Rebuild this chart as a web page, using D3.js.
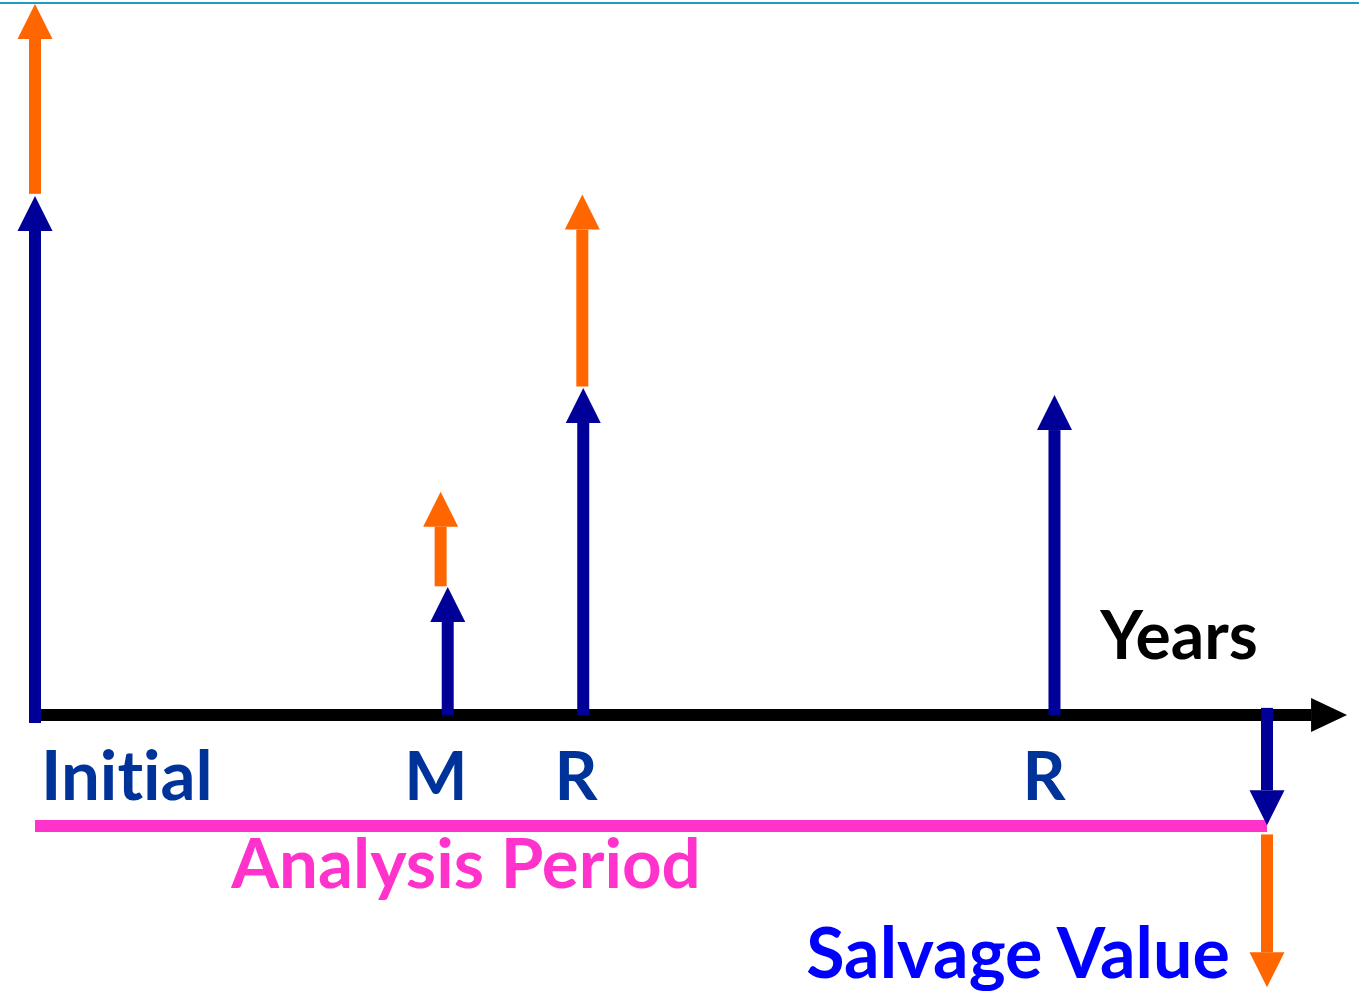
<!DOCTYPE html>
<html>
<head>
<meta charset="utf-8">
<script src="https://cdn.jsdelivr.net/npm/d3@7"></script>
<style>
  body { margin: 0; background: #fff; }
  text { font-family: Lato, "Open Sans", sans-serif; font-weight: bold; font-variant-ligatures: none; }
</style>
</head>
<body>
<div id="chart"></div>
<script>
let svgWidth = 1359;
let svgHeight = 991;

// cash flow events (years into the analysis period)
let eventLabels = ["Initial", "M", "R", "R", "Salvage"];
let eventYears = [0, 13.4, 17.8, 33.1, 40];
// agency cost (navy), positive = cost, negative = salvage
let agencyCost = [73, 18, 46, 45, -15.5];
// user cost (orange), drawn from start to end value
let userYears = [0, 13.17, 17.77, 40];
let userStart = [73.3, 18.1, 46.2, -16.8];
let userEnd = [100, 31.4, 73.2, -38.3];

let analysisYears = 40;
let axisEndYear = 42.6;

let svg = d3.select("#chart")
  .append("svg")
  .attr("width", svgWidth)
  .attr("height", svgHeight);

let x = d3.scaleLinear().domain([0, analysisYears]).range([35, 1267]);
let y = d3.scaleLinear().domain([0, 100]).range([715, 4]);

let navy = "#000099";
let orange = "#ff6600";
let stemW = 12, headW = 35, headL = 35;

// vertical arrow from value v0 to v1 at px position cx
function arrow(g, cx, v0, v1, color) {
  let y0 = y(v0), y1 = y(v1);
  let dir = y1 < y0 ? 1 : -1; // 1 = pointing up
  let hb = y1 + dir * headL;
  g.append("rect")
    .attr("x", cx - stemW / 2)
    .attr("y", Math.min(y0, hb))
    .attr("width", stemW)
    .attr("height", Math.abs(hb - y0))
    .attr("fill", color);
  g.append("path")
    .attr("d", `M${cx - headW / 2},${hb} L${cx + headW / 2},${hb} L${cx},${y1} Z`)
    .attr("fill", color);
}

// thin rule at top
svg.append("line")
  .attr("x1", 0).attr("x2", svgWidth)
  .attr("y1", 3).attr("y2", 3)
  .attr("stroke", "#1f9dbb")
  .attr("stroke-width", 2);

// time axis with arrow head
let axisG = svg.append("g");
axisG.append("rect")
  .attr("x", x(0) + 6)
  .attr("y", y(0) - 6)
  .attr("width", x(axisEndYear) - 36 - x(0) - 6)
  .attr("height", 12)
  .attr("fill", "#000");
axisG.append("path")
  .attr("d", `M${x(axisEndYear) - 36},${y(0) - 17} L${x(axisEndYear)},${y(0)} L${x(axisEndYear) - 36},${y(0) + 17} Z`)
  .attr("fill", "#000");

// analysis period bar
svg.append("rect")
  .attr("x", x(0))
  .attr("y", 820)
  .attr("width", x(analysisYears) - x(0))
  .attr("height", 12)
  .attr("fill", "#ff33cc");

// agency cost arrows
let arrowsG = svg.append("g");
eventYears.forEach((yr, i) => {
  let base = agencyCost[i] < 0 ? 1 : 0;
  arrow(arrowsG, x(yr), base, agencyCost[i], navy);
});
// initial stem runs slightly below axis
arrowsG.append("rect")
  .attr("x", x(0) - stemW / 2).attr("y", y(0))
  .attr("width", stemW).attr("height", 8)
  .attr("fill", navy);

// user cost arrows
userYears.forEach((yr, i) => {
  arrow(arrowsG, x(yr), userStart[i], userEnd[i], orange);
});

// labels
let labelColor = "#003399";
let labelsG = svg.append("g").attr("font-size", 67).attr("fill", labelColor);
labelsG.append("text").attr("x", 41).attr("y", 800).attr("font-size", 69).text("Initial");
labelsG.append("text").attr("x", 436).attr("y", 800).attr("text-anchor", "middle").text("M");
labelsG.append("text").attr("x", 576).attr("y", 800).attr("text-anchor", "middle").text("R");
labelsG.append("text").attr("x", 1044).attr("y", 800).attr("text-anchor", "middle").text("R");

svg.append("text")
  .attr("x", 1179).attr("y", 659)
  .attr("text-anchor", "middle")
  .attr("font-size", 66)
  .attr("fill", "#000")
  .text("Years");

svg.append("text")
  .attr("x", 466).attr("y", 888)
  .attr("text-anchor", "middle")
  .attr("font-size", 69)
  .attr("fill", "#ff33cc")
  .text("Analysis Period");

svg.append("text")
  .attr("x", 1018).attr("y", 978)
  .attr("text-anchor", "middle")
  .attr("font-size", 70)
  .attr("fill", "#0000ff")
  .text("Salvage Value");
</script>
</body>
</html>
